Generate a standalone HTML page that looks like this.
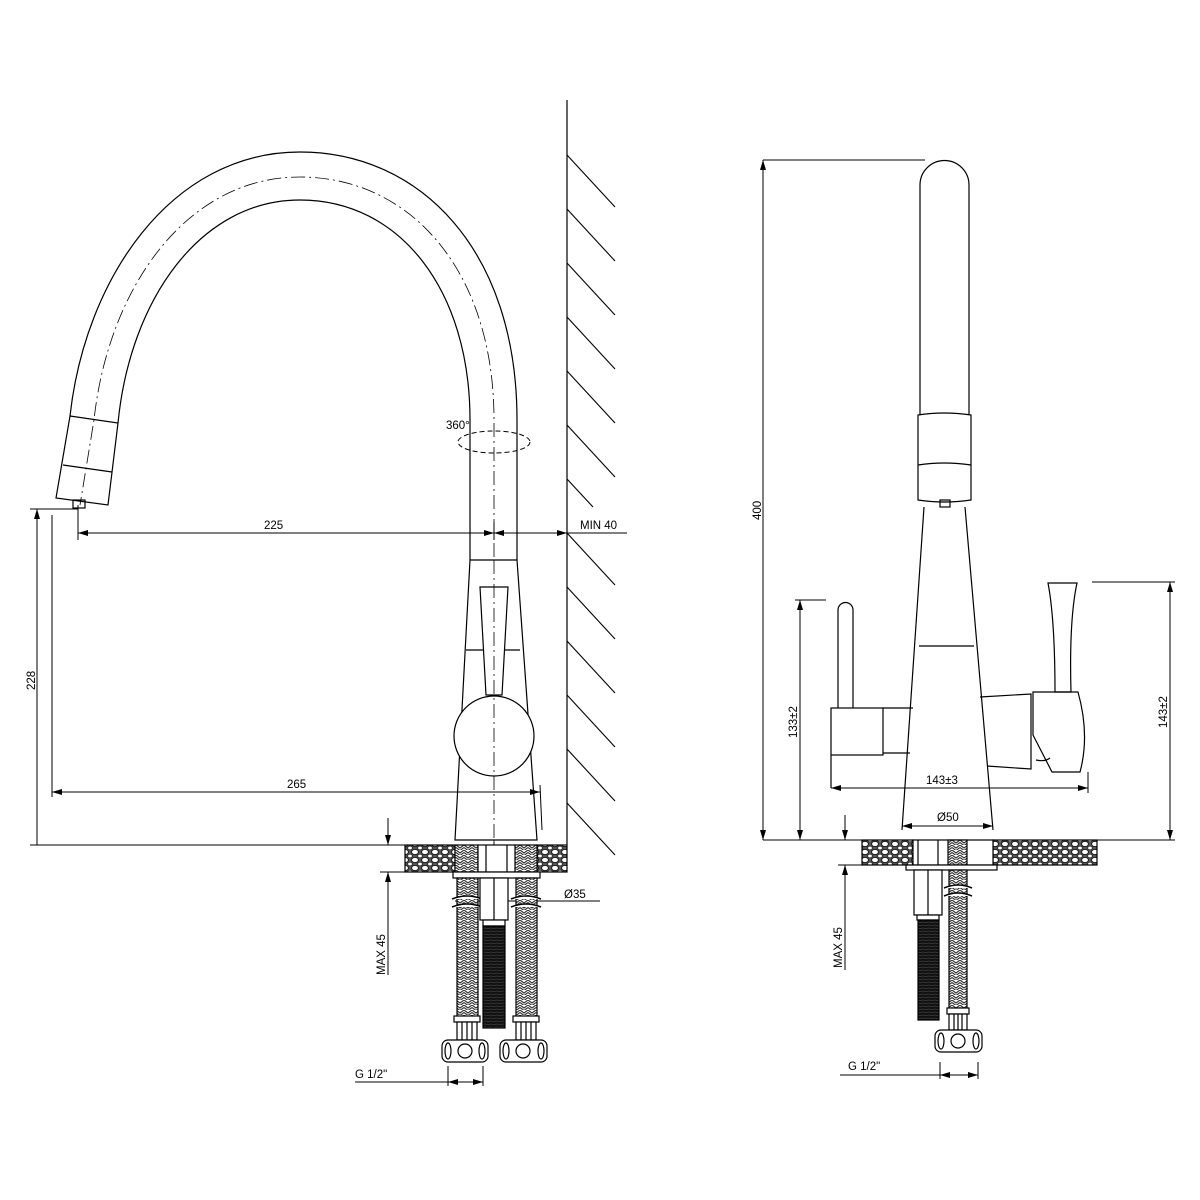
<!DOCTYPE html>
<html><head><meta charset="utf-8"><style>body{margin:0;background:#fff}svg{display:block}</style></head>
<body>
<svg width="1200" height="1200" viewBox="0 0 1200 1200" xmlns="http://www.w3.org/2000/svg" font-family="Liberation Sans, sans-serif" font-size="11.5">
<defs>
<pattern id="grav" width="10" height="8" patternUnits="userSpaceOnUse">
<rect width="10" height="8" fill="#555"/>
<ellipse cx="5" cy="4" rx="3.4" ry="2.6" fill="#fff" stroke="#111" stroke-width="0.9"/>
<ellipse cx="0" cy="0" rx="2.3" ry="1.8" fill="#fff" stroke="#111" stroke-width="0.7"/><ellipse cx="10" cy="8" rx="2.3" ry="1.8" fill="#fff" stroke="#111" stroke-width="0.7"/>
<ellipse cx="10" cy="0" rx="2.3" ry="1.8" fill="#fff" stroke="#111" stroke-width="0.7"/><ellipse cx="0" cy="8" rx="2.3" ry="1.8" fill="#fff" stroke="#111" stroke-width="0.7"/>
</pattern>
<pattern id="braid" width="8" height="5" patternUnits="userSpaceOnUse">
<rect width="8" height="5" fill="#fff"/>
<path d="M0,0 L4,3 L8,0 M0,2.5 L4,5.5 L8,2.5" stroke="#333" stroke-width="1.1" fill="none"/>
</pattern>
<pattern id="thread" width="6" height="3" patternUnits="userSpaceOnUse">
<rect width="6" height="3" fill="#111"/><line x1="0" y1="1.5" x2="6" y2="1" stroke="#555" stroke-width="0.6"/>
</pattern>
<marker id="a" viewBox="0 0 10 6" refX="10" refY="3" markerWidth="10" markerHeight="6" orient="auto-start-reverse" markerUnits="userSpaceOnUse"><path d="M0,0 L10,3 L0,6z" fill="#000"/></marker>
</defs>
<g stroke="#000" stroke-width="1.2" fill="none">
<line x1="567" y1="100" x2="567" y2="845"/>
<g stroke-width="1.1">
<line x1="567" y1="155" x2="615" y2="207"/><line x1="567" y1="209" x2="615" y2="261"/><line x1="567" y1="263" x2="615" y2="315"/><line x1="567" y1="317" x2="615" y2="369"/><line x1="567" y1="371" x2="615" y2="423"/><line x1="567" y1="425" x2="615" y2="477"/><line x1="567" y1="479" x2="593" y2="507"/><line x1="567" y1="533" x2="615" y2="585"/><line x1="567" y1="587" x2="615" y2="639"/><line x1="567" y1="641" x2="615" y2="693"/><line x1="567" y1="695" x2="615" y2="747"/><line x1="567" y1="749" x2="615" y2="801"/><line x1="567" y1="803" x2="615" y2="855"/>
</g>
<path d="M517,560 L517,420 C517,250 420,152 300,152 C170,152 85,280 70,416"/>
<path d="M470,560 L470,420 C470,290 400,200 300,200 C200,200 130,300 118,423"/>
<path d="M494,845 L494,420 C494,270 410,177 300,177 C185,177 108,290 94,420 L80,505" stroke-width="0.8" stroke-dasharray="14,4,2,4"/>
<path d="M70,416 L118,423 L108,505 L56,498 Z"/><line x1="63" y1="465" x2="112" y2="472"/>
<rect x="73" y="500" width="12" height="8"/>
<ellipse cx="494" cy="442" rx="36" ry="11" stroke-dasharray="5,3" stroke-width="1"/>
<path d="M470,560 L517,560 L537,840 L455,840 Z" fill="#fff"/>
<line x1="466" y1="650" x2="520" y2="650"/>
<path d="M480,587 L508,587 L502,695 L486,695 Z" fill="#fff"/>
<circle cx="494" cy="736" r="40" fill="#fff"/>
<line x1="494" y1="560" x2="494" y2="845" stroke-width="0.8" stroke-dasharray="14,4,2,4"/>
<g stroke-width="1">
<line x1="78" y1="505" x2="78" y2="540"/>
<line x1="78" y1="533" x2="627" y2="533"/>
<line x1="120" y1="533" x2="78" y2="533" marker-end="url(#a)"/>
<line x1="470" y1="533" x2="494" y2="533" marker-end="url(#a)"/><line x1="517" y1="533" x2="494" y2="533" marker-end="url(#a)"/>
<line x1="494" y1="522" x2="494" y2="540"/>
<line x1="545" y1="533" x2="567" y2="533" marker-end="url(#a)"/>
<line x1="30" y1="509" x2="78" y2="509"/>
<line x1="37" y1="509" x2="37" y2="845" marker-start="url(#a)"/>
<line x1="30" y1="845" x2="567" y2="845"/>
<line x1="52" y1="515" x2="52" y2="797"/>
<line x1="52" y1="792" x2="540" y2="792" marker-start="url(#a)" marker-end="url(#a)"/>
<line x1="540" y1="785" x2="542" y2="830"/>
<line x1="388" y1="818" x2="388" y2="845" marker-end="url(#a)"/>
<line x1="388" y1="975" x2="388" y2="872" marker-end="url(#a)"/>
<line x1="380" y1="872" x2="455" y2="872"/>
<line x1="455" y1="901" x2="600" y2="901"/>
<line x1="355" y1="1082" x2="483" y2="1082"/>
<line x1="448" y1="1066" x2="448" y2="1086"/><line x1="483" y1="1066" x2="483" y2="1086"/>
<line x1="462" y1="1082" x2="448" y2="1082" marker-end="url(#a)"/><line x1="470" y1="1082" x2="483" y2="1082" marker-end="url(#a)"/>
</g>
<rect x="405" y="845" width="50" height="27" fill="url(#grav)"/>
<rect x="537" y="845" width="30" height="27" fill="url(#grav)"/>
<rect x="455" y="845" width="23" height="27" fill="url(#braid)"/>
<rect x="515" y="845" width="22" height="27" fill="url(#braid)"/>
<rect x="478" y="845" width="37" height="27" fill="#fff"/>
<line x1="486" y1="845" x2="486" y2="872"/><line x1="507" y1="845" x2="507" y2="872"/>
<rect x="453" y="872" width="87" height="6" fill="#fff"/>
<rect x="457" y="878" width="21" height="140" fill="url(#braid)"/>
<rect x="516" y="878" width="21" height="140" fill="url(#braid)"/>
<path d="M452,899 Q467,893 482,899 M452,907 Q467,901 482,907 M511,899 Q526,893 541,899 M511,907 Q526,901 541,907" stroke-width="1.5" fill="#fff"/>
<rect x="480" y="878" width="28" height="42" fill="#fff"/><line x1="494" y1="878" x2="494" y2="920"/>
<rect x="483" y="920" width="22" height="6" fill="#fff"/>
<rect x="483" y="926" width="22" height="102" fill="url(#thread)"/>
<rect x="454" y="1016" width="26" height="6" fill="#fff"/><rect x="513" y="1016" width="26" height="6" fill="#fff"/>
<rect x="457" y="1022" width="20" height="18" fill="#fff"/><line x1="462" y1="1022" x2="462" y2="1040"/><line x1="467" y1="1022" x2="467" y2="1040"/><line x1="472" y1="1022" x2="472" y2="1040"/>
<rect x="516" y="1022" width="20" height="18" fill="#fff"/><line x1="521" y1="1022" x2="521" y2="1040"/><line x1="526" y1="1022" x2="526" y2="1040"/><line x1="531" y1="1022" x2="531" y2="1040"/>
<rect x="442" y="1040" width="46" height="22" rx="6" fill="#fff"/><circle cx="465" cy="1051" r="7"/><ellipse cx="448" cy="1051" rx="3" ry="8"/><ellipse cx="482" cy="1051" rx="3" ry="8"/>
<rect x="500" y="1040" width="47" height="22" rx="6" fill="#fff"/><circle cx="523" cy="1051" r="7"/><ellipse cx="506" cy="1051" rx="3" ry="8"/><ellipse cx="541" cy="1051" rx="3" ry="8"/>

<path d="M920,415 L920,185 A24.5,24.5 0 0 1 969,185 L969,415"/>
<path d="M918,415 Q944,411 971,415 L971,500 Q944,504 918,500 Z" fill="#fff"/>
<path d="M918,465 Q944,461 971,465"/>
<rect x="940" y="500" width="10" height="7"/>
<path d="M924,507 L902,830 M965,507 L993,830"/>
<line x1="919" y1="646" x2="974" y2="646"/>
<path d="M838,708 L838,610 A7.5,7.5 0 0 1 853,610 L853,708"/>
<rect x="831" y="708" width="52" height="47"/><path d="M883,708 L913,708 M883,753 L910,753 M831,755 L831,788"/>
<path d="M980,697 L1031,694 L1031,769 L987,766"/>
<path d="M1048,583 L1077,583 Q1069,620 1071,692 L1055,692 Q1055,620 1048,583 Z"/>
<path d="M1033,692 L1078,692 Q1090,735 1080,772 L1052,772 L1033,735 Z"/>
<path d="M1036,760 Q1045,762 1050,758"/>
<g stroke-width="1">
<line x1="763" y1="160" x2="925" y2="160"/>
<line x1="763" y1="160" x2="763" y2="840" marker-start="url(#a)" marker-end="url(#a)"/>
<line x1="795" y1="600" x2="826" y2="600"/>
<line x1="800" y1="600" x2="800" y2="840" marker-start="url(#a)" marker-end="url(#a)"/>
<line x1="1092" y1="582" x2="1175" y2="582"/>
<line x1="1170" y1="582" x2="1170" y2="840" marker-start="url(#a)" marker-end="url(#a)"/>
<line x1="831" y1="788" x2="1088" y2="788" marker-start="url(#a)" marker-end="url(#a)"/>
<line x1="1088" y1="772" x2="1088" y2="793"/>
<line x1="902" y1="826" x2="993" y2="826" marker-start="url(#a)" marker-end="url(#a)"/>
<line x1="763" y1="840" x2="1175" y2="840"/>
<line x1="845" y1="815" x2="845" y2="840" marker-end="url(#a)"/>
<line x1="845" y1="970" x2="845" y2="865" marker-end="url(#a)"/>
<line x1="838" y1="865" x2="862" y2="865"/>
<line x1="840" y1="1075" x2="978" y2="1075"/>
<line x1="940" y1="1062" x2="940" y2="1079"/><line x1="978" y1="1062" x2="978" y2="1079"/>
<line x1="955" y1="1075" x2="940" y2="1075" marker-end="url(#a)"/><line x1="963" y1="1075" x2="978" y2="1075" marker-end="url(#a)"/>
</g>
<rect x="862" y="840" width="51" height="25" fill="url(#grav)"/>
<rect x="993" y="840" width="104" height="25" fill="url(#grav)"/>
<rect x="913" y="840" width="80" height="25" fill="#fff"/>
<line x1="918" y1="840" x2="918" y2="865"/><line x1="938" y1="840" x2="938" y2="865"/>
<rect x="948" y="840" width="19" height="25" fill="url(#braid)"/>
<rect x="906" y="865" width="91" height="5" fill="#fff"/>
<rect x="949" y="870" width="18" height="140" fill="url(#braid)"/>
<path d="M944,888 Q958,882 972,888 M944,896 Q958,890 972,896" stroke-width="1.5" fill="#fff"/>
<rect x="914" y="870" width="28" height="45" fill="#fff"/><line x1="928" y1="870" x2="928" y2="915"/>
<rect x="917" y="915" width="22" height="5" fill="#fff"/>
<rect x="918" y="920" width="21" height="100" fill="url(#thread)"/>
<rect x="947" y="1008" width="22" height="6" fill="#fff"/>
<rect x="949" y="1014" width="18" height="16" fill="#fff"/><line x1="954" y1="1014" x2="954" y2="1030"/><line x1="958" y1="1014" x2="958" y2="1030"/><line x1="962" y1="1014" x2="962" y2="1030"/>
<rect x="935" y="1030" width="47" height="22" rx="6" fill="#fff"/><circle cx="958" cy="1041" r="7"/><ellipse cx="941" cy="1041" rx="3" ry="8"/><ellipse cx="976" cy="1041" rx="3" ry="8"/>
</g>
<g fill="#000" stroke="none">
<text x="446" y="429">360°</text>
<text x="264" y="529">225</text>
<text x="580" y="529">MIN 40</text>
<text x="287" y="788">265</text>
<text x="564" y="898">Ø35</text>
<text x="355" y="1078">G 1/2"</text>
<text transform="translate(35,690) rotate(-90)">228</text>
<text transform="translate(385,975) rotate(-90)">MAX 45</text>
<text x="926" y="784">143±3</text>
<text x="937" y="821">Ø50</text>
<text x="848" y="1070">G 1/2"</text>
<text transform="translate(761,520) rotate(-90)">400</text>
<text transform="translate(797,738) rotate(-90)">133±2</text>
<text transform="translate(1167,728) rotate(-90)">143±2</text>
<text transform="translate(842,968) rotate(-90)">MAX 45</text>
</g>
</svg>
</body></html>
